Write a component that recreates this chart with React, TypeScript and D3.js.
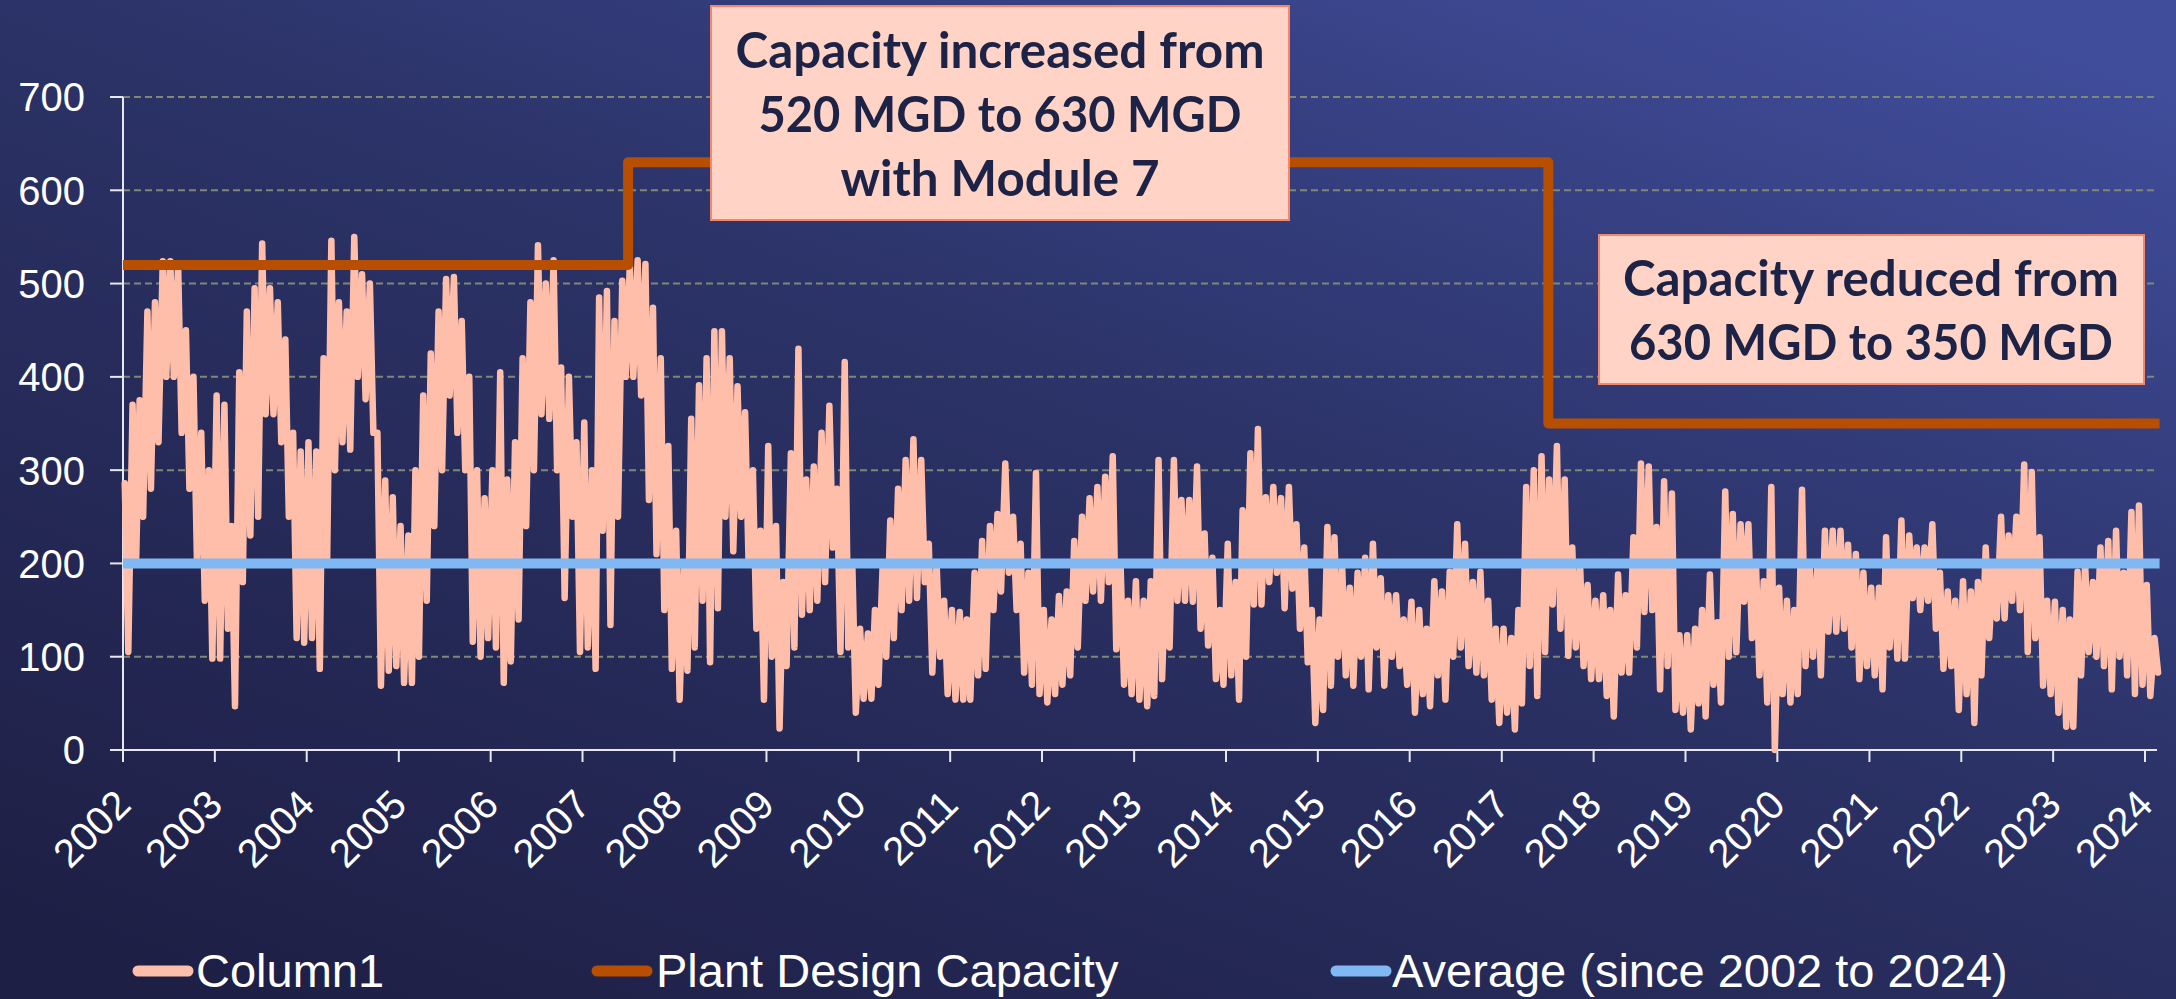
import React from 'react';
import * as d3 from 'd3';

// Monthly envelope readings: for every month a (high, low) pair, MGD
const flow2002 = [286,105, 370,200, 375,250, 470,280, 480,330, 524,400, 524,400, 520,340, 450,280, 400,200, 340,160, 300,98];
const flow2003 = [380,98, 370,130, 240,47, 405,180, 470,230, 495,250, 543,360, 495,360, 480,330, 440,250, 340,120, 320,115];
const flow2004 = [330,120, 320,87, 420,200, 546,300, 480,330, 470,322, 550,400, 510,376, 500,340, 340,69, 289,85, 271,90];
const flow2005 = [240,72, 230,72, 300,100, 380,160, 425,240, 470,300, 505,380, 507,340, 460,300, 400,116, 300,100, 270,120];
const flow2006 = [300,110, 405,72, 290,95, 330,140, 420,240, 480,300, 541,360, 500,355, 525,300, 410,163, 400,250, 330,105];
const flow2007 = [351,110, 300,87, 485,235, 492,134, 460,250, 503,400, 520,400, 525,380, 521,268, 474,210, 420,150, 326,87];
const flow2008 = [235,54, 200,85, 355,110, 391,160, 420,94, 449,152, 449,250, 420,213, 390,250, 362,200, 300,130, 235,54];
const flow2009 = [326,100, 240,23, 180,90, 318,110, 430,145, 290,150, 304,160, 340,180, 369,217, 280,105, 416,110, 200,40];
const flow2010 = [130,55, 125,55, 150,70, 200,100, 246,120, 280,150, 311,160, 333,163, 311,180, 221,83, 200,100, 160,60];
const flow2011 = [150,54, 148,54, 140,54, 190,80, 224,87, 240,150, 253,170, 307,190, 250,150, 221,83, 190,70, 297,60];
const flow2012 = [150,51, 140,60, 165,70, 170,80, 224,110, 250,160, 270,170, 282,160, 293,180, 315,108, 200,70, 160,60];
const flow2013 = [181,54, 160,47, 181,58, 311,76, 200,110, 311,160, 268,160, 268,159, 304,130, 232,112, 206,76, 150,70];
const flow2014 = [221,80, 180,54, 257,100, 318,156, 344,156, 271,180, 282,190, 270,152, 282,173, 242,130, 217,94, 150,29];
const flow2015 = [140,43, 239,69, 228,100, 195,80, 174,69, 190,100, 206,65, 221,110, 184,69, 166,100, 166,90, 140,70];
const flow2016 = [159,40, 150,60, 130,47, 181,80, 170,54, 191,100, 242,110, 221,90, 180,83, 191,80, 160,54, 130,29];
const flow2017 = [130,40, 120,22, 150,50, 282,90, 300,58, 315,105, 290,156, 326,130, 290,101, 217,110, 200,90, 177,76];
const flow2018 = [160,76, 166,58, 150,36, 188,83, 166,83, 228,110, 307,148, 304,150, 239,65, 288,90, 275,43, 123,40];
const flow2019 = [123,22, 130,50, 150,36, 188,70, 137,51, 277,100, 253,105, 242,159, 242,120, 200,80, 181,51, 282,0];
const flow2020 = [174,60, 160,51, 150,60, 279,90, 200,100, 200,80, 235,127, 235,127, 235,130, 220,110, 210,76, 190,90];
const flow2021 = [174,80, 174,65, 228,110, 200,98, 246,98, 230,163, 217,150, 217,160, 242,130, 190,87, 170,90, 160,43];
const flow2022 = [181,60, 170,29, 180,80, 217,120, 200,141, 250,141, 230,160, 250,150, 306,105, 298,120, 228,69, 160,60];
const flow2023 = [159,40, 150,25, 140,25, 191,80, 200,105, 180,100, 217,90, 224,65, 235,100, 190,80, 255,60, 262,70];
const flow2024 = [177,58, 120,83];

const flowYears = [
  flow2002, flow2003, flow2004, flow2005, flow2006, flow2007, flow2008, flow2009,
  flow2010, flow2011, flow2012, flow2013, flow2014, flow2015, flow2016, flow2017,
  flow2018, flow2019, flow2020, flow2021, flow2022, flow2023, flow2024,
];
const firstYear = 2002;

// Plant design capacity (MGD) steps
const capacityDates = ['2002-01-01', '2007-07-01', '2017-07-05', '2024-02-28'];
const capacityValues = [520, 630, 350, 350];

const averageValue = 200;
const averageDates = ['2002-01-01', '2024-02-28'];

const yTicks = [0, 100, 200, 300, 400, 500, 600, 700];
const tickYears = d3.range(2002, 2025);

const seriesNames = ['Column1', 'Plant Design Capacity', 'Average (since 2002 to 2024)'];
const seriesColors = ['#FFBEAA', '#B84E00', '#7FB8F2'];

const note1 = ['Capacity increased from', '520 MGD to 630 MGD', 'with Module 7'];
const note1Widths = [529, 483, 319];
const note2 = ['Capacity reduced from', '630 MGD to 350 MGD'];
const note2Widths = [496, 484];

type Pt = { date: Date; value: number };

export default function App() {
  const W = 2176, H = 999;
  const x = d3.scaleTime()
    .domain([new Date(2002, 0, 1), new Date(2024, 0, 1)])
    .range([123, 2145]);
  const y = d3.scaleLinear().domain([0, 700]).range([750, 97]);
  const plotRight = 2157;

  const flowPts: Pt[] = [];
  flowYears.forEach((arr, yi) => {
    arr.forEach((v, i) => {
      const month = Math.floor(i / 2);
      const day = i % 2 === 0 ? 8 : 22;
      flowPts.push({ date: new Date(firstYear + yi, month, day), value: v });
    });
  });

  const capPts: Pt[] = capacityDates.map((d, i) => ({ date: new Date(d + 'T00:00:00'), value: capacityValues[i] }));
  const avgPts: Pt[] = averageDates.map((d) => ({ date: new Date(d + 'T00:00:00'), value: averageValue }));

  const line = d3.line<Pt>().x((d) => x(d.date)).y((d) => y(d.value));
  const stepLine = d3.line<Pt>().x((d) => x(d.date)).y((d) => y(d.value)).curve(d3.curveStepAfter);

  const axisFont = "'Liberation Sans', Arial, sans-serif";
  const noteFont = "Lato, 'Open Sans', sans-serif";

  const legendItems = [
    { sx: 133, tx: 196 },
    { sx: 592, tx: 656 },
    { sx: 1331, tx: 1392 },
  ];

  return (
    <svg width={W} height={H} style={{ position: 'absolute', left: 0, top: 0, display: 'block' }}>
      <defs>
        <linearGradient id="bg" x1="0.1" y1="1" x2="0.9" y2="0">
          <stop offset="0" stopColor="#1E1F45" />
          <stop offset="0.55" stopColor="#2B3266" />
          <stop offset="1" stopColor="#404D9B" />
        </linearGradient>
      </defs>
      <rect x={0} y={0} width={W} height={H} fill="url(#bg)" />

      {/* grid */}
      {yTicks.filter((t) => t > 0).map((t) => (
        <line key={'g' + t} x1={123} x2={plotRight} y1={y(t)} y2={y(t)}
          stroke="#7F8777" strokeWidth={2} strokeDasharray="7,4" />
      ))}

      {/* y axis */}
      <line x1={123} x2={123} y1={y(700)} y2={y(0)} stroke="#E8E8F0" strokeWidth={2} />
      {yTicks.map((t) => (
        <g key={'y' + t}>
          <line x1={110} x2={123} y1={y(t)} y2={y(t)} stroke="#E8E8F0" strokeWidth={2} />
          <text x={85} y={y(t)} dy="0.36em" textAnchor="end" fill="#FFFFFF"
            fontFamily={axisFont} fontSize={40}>{t}</text>
        </g>
      ))}

      {/* x axis */}
      <line x1={110} x2={plotRight} y1={y(0)} y2={y(0)} stroke="#E8E8F0" strokeWidth={2} />
      {tickYears.map((yr) => {
        const tx = x(new Date(yr, 0, 1));
        return (
          <g key={'x' + yr}>
            <line x1={tx} x2={tx} y1={y(0)} y2={y(0) + 12} stroke="#E8E8F0" strokeWidth={2} />
            <text transform={`translate(${tx + 10},${807}) rotate(-45)`} textAnchor="end"
              fill="#FFFFFF" fontFamily={axisFont} fontSize={40}>{yr}</text>
          </g>
        );
      })}

      {/* series */}
      <path d={line(flowPts) || ''} fill="none" stroke={seriesColors[0]} strokeWidth={6.5}
        strokeLinejoin="round" strokeLinecap="round" />
      <path d={line(avgPts) || ''} fill="none" stroke={seriesColors[2]} strokeWidth={10} />
      <path d={stepLine(capPts) || ''} fill="none" stroke={seriesColors[1]} strokeWidth={10}
        strokeLinejoin="round" />

      {/* annotation 1 */}
      <rect x={711} y={6} width={578} height={214} fill="#FFD3C6" stroke="#F4866C" strokeWidth={2} />
      {note1.map((s, i) => (
        <text key={'n1' + i} x={1000} y={68 + i * 64} textAnchor="middle" fill="#1C2346"
          fontFamily={noteFont} fontWeight={700} fontSize={50}
          textLength={note1Widths[i]} lengthAdjust="spacingAndGlyphs">{s}</text>
      ))}

      {/* annotation 2 */}
      <rect x={1599} y={235} width={545} height={149} fill="#FFD3C6" stroke="#F4866C" strokeWidth={2} />
      {note2.map((s, i) => (
        <text key={'n2' + i} x={1871} y={296 + i * 64} textAnchor="middle" fill="#1C2346"
          fontFamily={noteFont} fontWeight={700} fontSize={50}
          textLength={note2Widths[i]} lengthAdjust="spacingAndGlyphs">{s}</text>
      ))}

      {/* legend */}
      {seriesNames.map((name, i) => (
        <g key={'l' + i}>
          <line x1={legendItems[i].sx + 5} x2={legendItems[i].sx + 55} y1={971} y2={971}
            stroke={seriesColors[i]} strokeWidth={11} strokeLinecap="round" />
          <text x={legendItems[i].tx} y={987} fill="#FFFFFF" fontFamily={axisFont} fontSize={47}>{name}</text>
        </g>
      ))}
    </svg>
  );
}
